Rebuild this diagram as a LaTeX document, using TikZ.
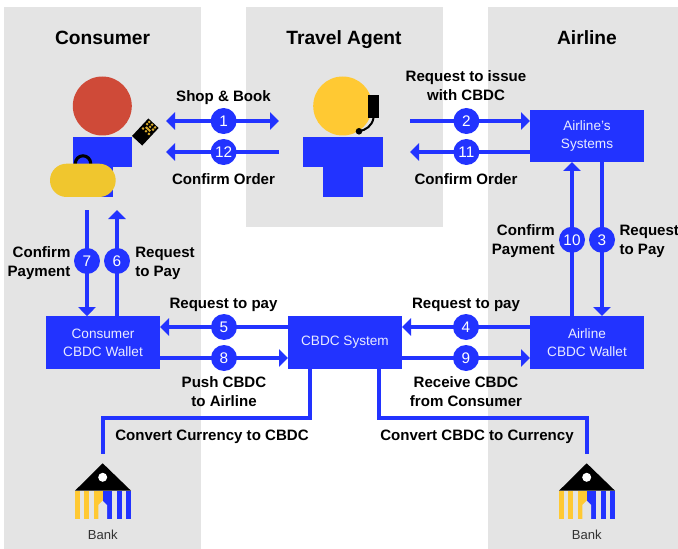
\documentclass[tikz,border=0pt]{standalone}
\usepackage{fontspec}
\setmainfont{Liberation Sans}
\usetikzlibrary{arrows.meta, calc, positioning}
\definecolor{flowblue}{HTML}{2233FF}
\definecolor{panelgray}{HTML}{E4E4E4}
\definecolor{bankyellow}{HTML}{FFC933}
\definecolor{bagyellow}{HTML}{F0C62E}
\definecolor{headred}{HTML}{CF4A38}
\tikzset{
    flow/.style={draw=flowblue, line width=2.8pt, -{Triangle[length=6.75pt, width=12.75pt]}},
    plainflow/.style={draw=flowblue, line width=2.8pt},
    numdot/.style={circle, fill=flowblue, text=white, minimum size=19.5pt, inner sep=0pt, font=\fontsize{11.5}{12}\selectfont},
    bluebox/.style={rectangle, fill=flowblue, text=white!90!flowblue, inner sep=0pt, outer sep=0pt, align=center, minimum width=85.5pt, minimum height=39.5pt, font=\fontsize{10.2}{13.5}\selectfont},
    steplabel/.style={inner sep=0pt, align=center, font=\fontsize{11.3}{14.2}\selectfont\bfseries},
    steplabelr/.style={steplabel, align=right, anchor=east},
    steplabell/.style={steplabel, align=left, anchor=west},
    paneltitle/.style={inner sep=0pt, anchor=base, font=\fontsize{14.4}{16}\selectfont\bfseries},
    banklabel/.style={inner sep=0pt, text=black!80, font=\fontsize{9.8}{12}\selectfont}
}
\newcommand{\banksign}[2]{
    \begin{scope}[shift={(#1, 0)}]
        \fill[black] (102.7, 463.3) -- (131, 490.7) -- (75, 490.7) -- cycle;
        \fill[white] (102.7, 477.3) circle[radius=4.5*0.75pt];
        \foreach \xa/\xb in {75/80, 84/89, 93.7/102.7} {
            \fill[bankyellow] (\xa, 490.7) rectangle (\xb, 519);
        }
        \foreach \xa/\xb in {102.7/111.7, 117/122, 126/131} {
            \fill[flowblue] (\xa, 490.7) rectangle (\xb, 519);
        }
        \fill[panelgray] (98.3, 519) -- (98.3, 505) -- (102.7, 500.7) -- (107, 505) -- (107, 519) -- cycle;
        \node[banklabel] (#2) at (102.7, 535) {Bank};
    \end{scope}
}
\begin{document}
\begin{tikzpicture}[x=0.75pt, y=-0.75pt]
    \useasboundingbox (0, 0) rectangle (678, 549);
    % panels
    \fill[panelgray] (4, 7) rectangle (201, 549);
    \fill[panelgray] (246, 7) rectangle (443, 227);
    \fill[panelgray] (488, 7) rectangle (678, 549);
    \node[paneltitle] (consumer) at (102.5, 44.5) {Consumer};
    \node[paneltitle] (agent) at (344, 44.5) {Travel Agent};
    \node[paneltitle] (airline) at (587, 44.5) {Airline};
    % consumer figure
    \fill[headred] (102.3, 106) circle[radius=29.5*0.75pt];
    \fill[flowblue] (72.7, 136.7) rectangle (131.7, 166.7);
    \fill[flowblue] (72.7, 160) rectangle (112.5, 196.7);
    \draw[black, line width=2.3pt] (83, 163.5) circle[radius=7.7*0.75pt];
    \fill[bagyellow, rounded corners=12.4pt] (50, 163.7) rectangle (115.7, 197);
    \begin{scope}[shift={(145.3, 132)}, rotate=47]
        \fill[black] (-12, -7) rectangle (12, 7);
        \foreach \px/\py in {1/-4, 1/4, 4/-2, 4/2, 7/0, 10/-4, 10/4, 7/-4, 7/4, 4/0, 10/0, 1/0} {
            \fill[bankyellow!85!black] (\px-1, \py-1) rectangle (\px+1, \py+1);
        }
    \end{scope}
    % agent figure
    \fill[bankyellow] (342.7, 106) circle[radius=29.5*0.75pt];
    \fill[flowblue] (302.7, 136.7) rectangle (383.3, 166.7);
    \fill[flowblue] (322.7, 160) rectangle (363, 197);
    \fill[black] (368, 95) rectangle (379, 118);
    \draw[black, line width=1.5pt] (373.5, 118) .. controls (372, 126) and (366, 130) .. (359, 131.3);
    \fill[black] (359, 131.3) circle[radius=3.3*0.75pt];
    % boxes
    \node[bluebox] (systems) at (587, 136) {Airline's\\Systems};
    \node[bluebox] (awallet) at (587, 342.5) {Airline\\CBDC Wallet};
    \node[bluebox] (cbdc) at (345, 342.5) {CBDC System};
    \node[bluebox] (cwallet) at (103, 342.5) {Consumer\\CBDC Wallet};
    % free ends
    \coordinate (cl1) at (166, 121);
    \coordinate (cr1) at (279, 121);
    \coordinate (cl2) at (166, 152);
    \coordinate (cr2) at (279, 152);
    \coordinate (al1) at (410, 121);
    \coordinate (al2) at (410, 152);
    \coordinate (ct7) at (87, 210);
    \coordinate (ct6) at (117, 210);
    \coordinate (bank1) at (102.7, 454);
    \coordinate (bank2) at (587, 454);
    % top row
    \draw[flow, {Triangle[length=6.75pt, width=12.75pt]}-{Triangle[length=6.75pt, width=12.75pt]}] (cl1) -- node[numdot, pos=0.51] (n1) {1} (cr1);
    \draw[flow] (cr2) -- node[numdot, pos=0.49] (n12) {12} (cl2);
    \draw[flow] (al1) -- node[numdot, pos=0.47] (n2) {2} (al1 -| systems.west);
    \draw[flow] (al2 -| systems.west) -- node[numdot, pos=0.53] (n11) {11} (al2);
    % airline column
    \draw[flow] (572, 316) -- node[numdot, pos=0.495] (n10) {10} (572, 162);
    \draw[flow] (602, 162) -- node[numdot, pos=0.505] (n3) {3} (602, 316);
    % consumer column
    \draw[flow] (ct7) -- node[numdot, pos=0.48] (n7) {7} (ct7 |- cwallet.north);
    \draw[flow] (ct6 |- cwallet.north) -- node[numdot, pos=0.52] (n6) {6} (ct6);
    % middle row
    \draw[flow] (cbdc.west |- 0, 327) -- node[numdot] (n5) {5} (cwallet.east |- 0, 327);
    \draw[flow] (cwallet.east |- 0, 358) -- node[numdot] (n8) {8} (cbdc.west |- 0, 358);
    \draw[flow] (awallet.west |- 0, 327) -- node[numdot] (n4) {4} (cbdc.east |- 0, 327);
    \draw[flow] (cbdc.east |- 0, 358) -- node[numdot] (n9) {9} (awallet.west |- 0, 358);
    % to the banks
    \draw[plainflow] (cbdc.south -| 310, 0) -- (310, 418) -| (bank1);
    \draw[plainflow] (cbdc.south -| 379.3, 0) -- (379.3, 418) -| (bank2);
    % labels
    \node[steplabel] (shop) at (223.5, 98) {Shop \& Book};
    \node[steplabel] (conf1) at (223.5, 179) {Confirm Order};
    \node[steplabel] (issue) at (466, 85.5) {Request to issue\\with CBDC};
    \node[steplabel] (conf2) at (466, 179) {Confirm Order};
    \node[steplabelr] (pay1) at (70.7, 263) {Confirm\\Payment};
    \node[steplabell] (req1) at (135, 263) {Request\\to Pay};
    \node[steplabelr] (pay2) at (555, 241.5) {Confirm\\Payment};
    \node[steplabell] (req2) at (619.3, 241.5) {Request\\to Pay};
    \node[steplabel] (req3) at (223.5, 305) {Request to pay};
    \node[steplabel] (req4) at (466, 305) {Request to pay};
    \node[steplabel] (push) at (224, 391.5) {Push CBDC\\to Airline};
    \node[steplabel] (recv) at (466, 391.5) {Receive CBDC\\from Consumer};
    \node[steplabel] (conv1) at (212, 437) {Convert Currency to CBDC};
    \node[steplabel] (conv2) at (477, 437) {Convert CBDC to Currency};
    % banks
    \banksign{0}{bankl}
    \banksign{484}{bankr}
\end{tikzpicture}
\end{document}
